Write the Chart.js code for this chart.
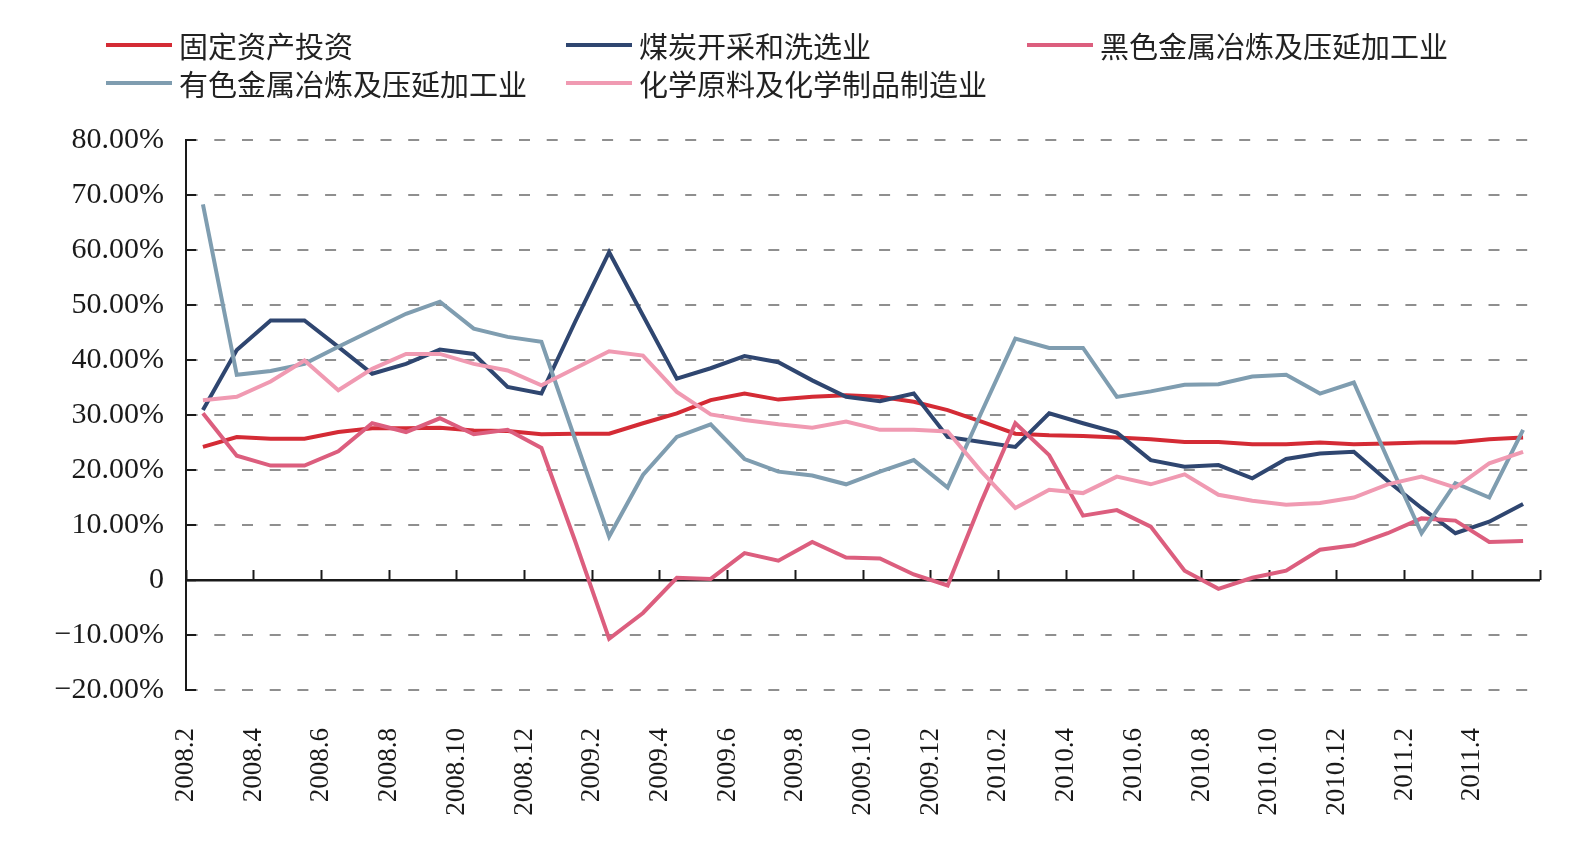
<!DOCTYPE html>
<html>
<head>
<meta charset="utf-8">
<script src="https://cdn.jsdelivr.net/npm/chart.js@4.4.1/dist/chart.umd.min.js"></script>
<style>
  html, body { margin: 0; padding: 0; background: #fff; }
  #wrap { position: relative; width: 1586px; height: 847px; }
  #myChart { position: absolute; left: 0; top: 0; }
  .lg { position: absolute; height: 40px; display: flex; align-items: center; white-space: nowrap;
        font-family: "Noto Sans CJK SC", sans-serif; font-size: 29px; color: #222; }
  .lg i { display: inline-block; width: 66px; height: 4px; margin-right: 7px; }
</style>
</head>
<body>
<div id="wrap">
  <canvas id="myChart" width="1586" height="847"></canvas>
</div>
<script>
const months = ['2008.2','2008.3','2008.4','2008.5','2008.6','2008.7','2008.8','2008.9','2008.10','2008.11','2008.12',
    '2009.1','2009.2','2009.3','2009.4','2009.5','2009.6','2009.7','2009.8','2009.9','2009.10','2009.11','2009.12',
    '2010.1','2010.2','2010.3','2010.4','2010.5','2010.6','2010.7','2010.8','2010.9','2010.10','2010.11','2010.12',
    '2011.1','2011.2','2011.3','2011.4','2011.5'];

const names = ['固定资产投资', '煤炭开采和洗选业', '黑色金属冶炼及压延加工业', '有色金属冶炼及压延加工业', '化学原料及化学制品制造业'];
const colors = ['#d42b35', '#2f4670', '#dc5e7e', '#7f9db0', '#f09ab2'];

// growth rates, %
const fixedAsset = [24.2, 26.0, 25.7, 25.7, 26.9, 27.6, 27.6, 27.7, 27.2, 27.1, 26.5,
    26.6, 26.6, 28.5, 30.3, 32.7, 33.9, 32.8, 33.3, 33.6, 33.3, 32.4, 30.9,
    28.8, 26.6, 26.3, 26.2, 25.9, 25.6, 25.1, 25.1, 24.7, 24.7, 25.0, 24.7,
    24.8, 25.0, 25.0, 25.6, 25.9];
const coal = [30.9, 41.8, 47.2, 47.2, 42.4, 37.5, 39.3, 41.9, 41.1, 35.1, 33.9,
    47.0, 59.6, 48.1, 36.6, 38.5, 40.7, 39.6, 36.3, 33.3, 32.5, 33.9, 26.0,
    25.1, 24.2, 30.3, 28.5, 26.8, 21.8, 20.6, 20.9, 18.5, 22.0, 23.0, 23.3,
    18.0, 13.1, 8.5, 10.6, 13.8];
const ferrous = [30.3, 22.6, 20.8, 20.8, 23.4, 28.5, 26.9, 29.4, 26.5, 27.3, 24.0,
    7.0, -10.7, -6.0, 0.4, 0.2, 4.9, 3.5, 6.9, 4.1, 3.9, 1.0, -1.0,
    14.3, 28.5, 22.7, 11.7, 12.7, 9.7, 1.7, -1.6, 0.4, 1.7, 5.5, 6.3,
    8.5, 11.2, 10.8, 6.9, 7.1];
const nonFerrous = [68.3, 37.3, 38.0, 39.3, 42.4, 45.4, 48.4, 50.6, 45.7, 44.2, 43.3,
    25.5, 7.9, 19.1, 26.0, 28.3, 22.0, 19.7, 19.0, 17.4, 19.7, 21.8, 16.8,
    30.5, 43.9, 42.2, 42.2, 33.3, 34.3, 35.5, 35.6, 37.0, 37.3, 33.9, 35.9,
    22.0, 8.5, 17.6, 15.0, 27.3];
const chemical = [32.7, 33.3, 36.1, 39.9, 34.5, 38.4, 41.1, 41.1, 39.3, 38.1, 35.4,
    38.5, 41.6, 40.8, 34.2, 30.1, 29.1, 28.3, 27.7, 28.8, 27.3, 27.3, 27.0,
    19.7, 13.1, 16.4, 15.8, 18.8, 17.4, 19.2, 15.5, 14.4, 13.7, 14.0, 15.0,
    17.4, 18.8, 16.8, 21.2, 23.3];

const seriesData = [fixedAsset, coal, ferrous, nonFerrous, chemical];
const yTicks = [-20, -10, 0, 10, 20, 30, 40, 50, 60, 70, 80];

const serif = '"Liberation Serif", "Times New Roman", serif';
const ink = '#1a1a1a';

const ctx = document.getElementById('myChart');

const chart = new Chart(ctx, {
    type: 'line',
    data: {
        labels: months,
        datasets: seriesData.map((d, i) => ({
            label: names[i],
            data: d,
            borderColor: colors[i],
            backgroundColor: colors[i],
            borderWidth: 4,
            pointRadius: 0,
            tension: 0,
            order: 5 - i,
        })),
    },
    options: {
        responsive: false,
        animation: false,
        devicePixelRatio: 1,
        layout: { padding: { top: 140, right: 41, bottom: 0, left: 0 } },
        plugins: { legend: { display: false }, tooltip: { enabled: false } },
        scales: {
            x: {
                type: 'category',
                position: 'bottom',
                offset: true,
                border: { display: false },
                grid: { display: false },
                ticks: {
                    autoSkip: false,
                    minRotation: 90,
                    maxRotation: 90,
                    labelOffset: -17,
                    padding: 30,
                    color: ink,
                    font: { family: serif, size: 27 },
                    callback: (v, i) => i % 2 === 0 ? months[i] : '',
                },
                afterFit: s => { s.height = 157; },
            },
            // zero line tick marks
            x0: {
                type: 'category',
                position: { y: 0 },
                offset: true,
                border: { display: false },
                grid: {
                    offset: true,
                    drawOnChartArea: false,
                    drawTicks: true,
                    tickLength: -10,
                    tickWidth: 2,
                    tickColor: c => (c.tick ? c.index % 2 === 0 : true) ? ink : 'rgba(0,0,0,0)',
                },
                ticks: { display: false },
            },
            y: {
                min: -20,
                max: 80,
                afterBuildTicks: s => { s.ticks = yTicks.map(v => ({ value: v })); },
                border: {
                    display: true,
                    color: ink,
                    width: 2,
                    dash: c => (c.tick && c.tick.value === 0) ? [] : [11, 16.7],
                    dashOffset: 0.4,
                },
                grid: {
                    color: c => (c.tick && c.tick.value === 0) ? ink : '#8f8f8f',
                    lineWidth: c => (c.tick && c.tick.value === 0) ? 2.5 : 2,
                    drawTicks: true,
                    tickLength: -10,
                    tickColor: ink,
                    tickWidth: 2,
                },
                ticks: {
                    padding: 32,
                    color: ink,
                    font: { family: serif, size: 30 },
                    callback: v => v === 0 ? '0' : (v < 0 ? '\u2212' : '') + Math.abs(v).toFixed(2) + '%',
                },
                afterFit: s => { s.width = 186; },
            },
        },
    },
});

// legend, 3 columns like the original
const legendPos = [[106, 25], [566, 25], [1027, 25], [106, 63], [566, 63]];
const wrap = document.getElementById('wrap');
chart.data.datasets.forEach((ds, i) => {
    const el = document.createElement('div');
    el.className = 'lg';
    el.style.left = legendPos[i][0] + 'px';
    el.style.top = legendPos[i][1] + 'px';
    el.innerHTML = '<i style="background:' + ds.borderColor + '"></i>' + ds.label;
    wrap.appendChild(el);
});
</script>
</body>
</html>
